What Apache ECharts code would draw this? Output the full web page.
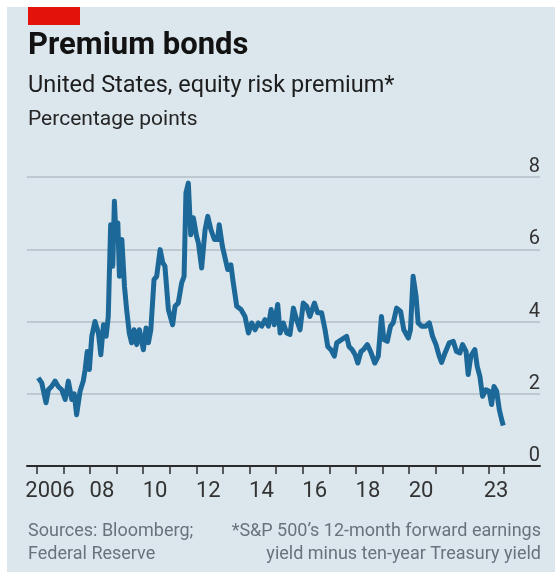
<!DOCTYPE html>
<html>
<head>
<meta charset="utf-8">
<script src="https://cdn.jsdelivr.net/npm/echarts@6/dist/echarts.min.js"></script>
<style>
  html, body { margin: 0; padding: 0; background: #fff; }
  #chart { width: 555px; height: 575px; }
</style>
</head>
<body>
<div id="chart"></div>
<script>
// equity risk premium, percentage points
const years = [
  2006.06, 2006.19, 2006.35, 2006.44, 2006.56, 2006.69, 2006.81, 2006.94, 2007.07, 2007.19,
  2007.32, 2007.41, 2007.50, 2007.63, 2007.75, 2007.82, 2007.90, 2007.98, 2008.07, 2008.19,
  2008.32, 2008.41, 2008.51, 2008.61, 2008.69, 2008.78, 2008.86, 2008.92, 2008.98, 2009.05,
  2009.11, 2009.20, 2009.30, 2009.38, 2009.48, 2009.57, 2009.66, 2009.76, 2009.86, 2010.01,
  2010.11, 2010.20, 2010.29, 2010.41, 2010.51, 2010.64, 2010.74, 2010.82, 2010.95, 2011.11,
  2011.20, 2011.32, 2011.45, 2011.54, 2011.61, 2011.70, 2011.79, 2011.89, 2012.01, 2012.08,
  2012.20, 2012.33, 2012.43, 2012.55, 2012.68, 2012.80, 2012.86, 2012.98, 2013.08, 2013.18,
  2013.30, 2013.39, 2013.52, 2013.68, 2013.83, 2013.96, 2014.08, 2014.21, 2014.33, 2014.46,
  2014.58, 2014.71, 2014.81, 2014.93, 2015.06, 2015.15, 2015.27, 2015.40, 2015.52, 2015.65,
  2015.77, 2015.90, 2016.02, 2016.15, 2016.27, 2016.44, 2016.56, 2016.71, 2016.84, 2016.94,
  2017.06, 2017.19, 2017.28, 2017.46, 2017.65, 2017.74, 2017.86, 2017.97, 2018.07, 2018.19,
  2018.28, 2018.43, 2018.55, 2018.71, 2018.84, 2018.96, 2019.05, 2019.18, 2019.30, 2019.40,
  2019.53, 2019.68, 2019.80, 2019.97, 2020.05, 2020.15, 2020.26, 2020.34, 2020.47, 2020.63,
  2020.76, 2020.88, 2021.01, 2021.13, 2021.22, 2021.35, 2021.51, 2021.66, 2021.78, 2021.91,
  2022.01, 2022.14, 2022.22, 2022.32, 2022.47, 2022.56, 2022.66, 2022.76, 2022.89, 2023.01,
  2023.10, 2023.19, 2023.29, 2023.39, 2023.48, 2023.54
];
const premium = [
  2.44, 2.30, 1.75, 2.11, 2.20, 2.35, 2.20, 2.11, 1.84, 2.35,
  1.84, 2.00, 1.42, 2.07, 2.35, 2.67, 3.17, 2.67, 3.59, 4.00,
  3.68, 3.08, 3.91, 3.59, 4.14, 6.68, 5.53, 7.33, 6.36, 6.73,
  5.25, 6.27, 4.97, 4.33, 3.68, 3.41, 3.77, 3.36, 3.77, 3.22,
  3.82, 3.41, 3.77, 5.16, 5.25, 5.99, 5.62, 5.53, 4.33, 3.91,
  4.42, 4.51, 5.07, 5.25, 7.56, 7.83, 6.40, 6.87, 6.36, 6.17,
  5.48, 6.54, 6.91, 6.54, 6.27, 6.27, 6.68, 6.08, 5.76, 5.44,
  5.57, 5.07, 4.42, 4.33, 4.14, 3.68, 3.96, 3.77, 3.96, 3.87,
  4.05, 3.87, 4.33, 3.91, 4.47, 3.68, 3.96, 3.68, 3.64, 4.37,
  4.05, 3.77, 4.51, 4.42, 4.14, 4.51, 4.24, 4.24, 3.77, 3.31,
  3.22, 3.04, 3.41, 3.50, 3.59, 3.31, 3.22, 3.08, 2.85, 3.17,
  3.22, 3.36, 3.17, 2.85, 3.04, 4.14, 3.50, 3.45, 3.87, 3.96,
  4.37, 4.28, 3.77, 3.54, 3.77, 5.25, 4.70, 3.96, 3.87, 3.87,
  3.96, 3.59, 3.36, 3.04, 2.87, 3.13, 3.41, 3.45, 3.17, 3.13,
  3.36, 3.17, 2.53, 3.04, 3.22, 2.76, 2.48, 1.93, 2.11, 2.07,
  1.70, 2.20, 2.07, 1.56, 1.28, 1.12
];

// x axis: year ticks, plus one at the end of the data
const tickYears = [2006, 2007, 2008, 2009, 2010, 2011, 2012, 2013, 2014, 2015,
  2016, 2017, 2018, 2019, 2020, 2021, 2022, 2023, 2023.55];
const labelPos = [2006.5, 2008.45, 2010.45, 2012.45, 2014.45, 2016.45, 2018.45, 2020.45, 2023.27];
const labelText = ['2006', '08', '10', '12', '14', '16', '18', '20', '23'];
const yTicks = [0, 2, 4, 6, 8];

const FONT = 'Roboto, "Noto Sans", sans-serif';
const chart = echarts.init(document.getElementById('chart'));

const option = {
  backgroundColor: '#ffffff',
  animation: false,
  grid: { left: 27, right: 15, top: 177, bottom: 109 },
  graphic: [
    { type: 'rect', z: -10, shape: { x: 7, y: 7, width: 548, height: 565 }, style: { fill: '#dce6ed' } },
    { type: 'rect', shape: { x: 28, y: 7, width: 52, height: 18 }, style: { fill: '#e3120b' } },
    { type: 'text', x: 28, y: 46, style: { text: 'Premium bonds', font: 'bold 31px ' + FONT, fill: '#121212', verticalAlign: 'middle' } },
    { type: 'text', x: 28, y: 86, style: { text: 'United States, equity risk premium*', font: '23.5px ' + FONT, fill: '#1d1d1d', verticalAlign: 'middle' } },
    { type: 'text', x: 28, y: 120, style: { text: 'Percentage points', font: '21px ' + FONT, fill: '#262626', verticalAlign: 'middle' } },
    { type: 'text', x: 28, y: 531, style: { text: 'Sources: Bloomberg;', font: '18px ' + FONT, fill: '#6a737b', verticalAlign: 'middle' } },
    { type: 'text', x: 28, y: 554, style: { text: 'Federal Reserve', font: '18px ' + FONT, fill: '#6a737b', verticalAlign: 'middle' } },
    { type: 'text', x: 541, y: 531, style: { text: '*S&P 500\u2019s 12-month forward earnings', font: '18px ' + FONT, fill: '#6a737b', align: 'right', verticalAlign: 'middle' } },
    { type: 'text', x: 541, y: 554, style: { text: 'yield minus ten-year Treasury yield', font: '18px ' + FONT, fill: '#6a737b', align: 'right', verticalAlign: 'middle' } }
  ],
  xAxis: {
    type: 'value',
    min: 2005.635,
    max: 2024.92,
    axisLine: { show: true, lineStyle: { color: '#2b2b2b', width: 2 } },
    axisTick: { show: true, customValues: tickYears, length: 8, lineStyle: { color: '#2b2b2b', width: 1.5 } },
    axisLabel: {
      customValues: labelPos,
      margin: 14,
      fontFamily: FONT,
      fontSize: 22,
      color: '#333',
      formatter: function (v) {
        let best = 0;
        labelPos.forEach(function (p, i) { if (Math.abs(p - v) < Math.abs(labelPos[best] - v)) best = i; });
        return labelText[best];
      }
    },
    splitLine: { show: false }
  },
  yAxis: {
    type: 'value',
    position: 'right',
    min: 0,
    max: 8,
    interval: 2,
    axisLine: { show: false },
    axisTick: { show: false },
    axisLabel: {
      inside: true,
      margin: 0,
      fontFamily: FONT,
      fontSize: 20,
      color: '#333',
      verticalAlign: 'bottom',
      align: 'right',
      formatter: function (v) { return yTicks.indexOf(v) >= 0 ? String(v) : ''; }
    },
    splitLine: { show: true, lineStyle: { color: '#b3bec7', width: 1.5 } }
  },
  series: [{
    type: 'line',
    data: years.map(function (y, i) { return [y, premium[i]]; }),
    symbol: 'none',
    lineStyle: { color: '#1b6899', width: 5, join: 'round' },
    z: 5
  }]
};

chart.setOption(option);
</script>
</body>
</html>
